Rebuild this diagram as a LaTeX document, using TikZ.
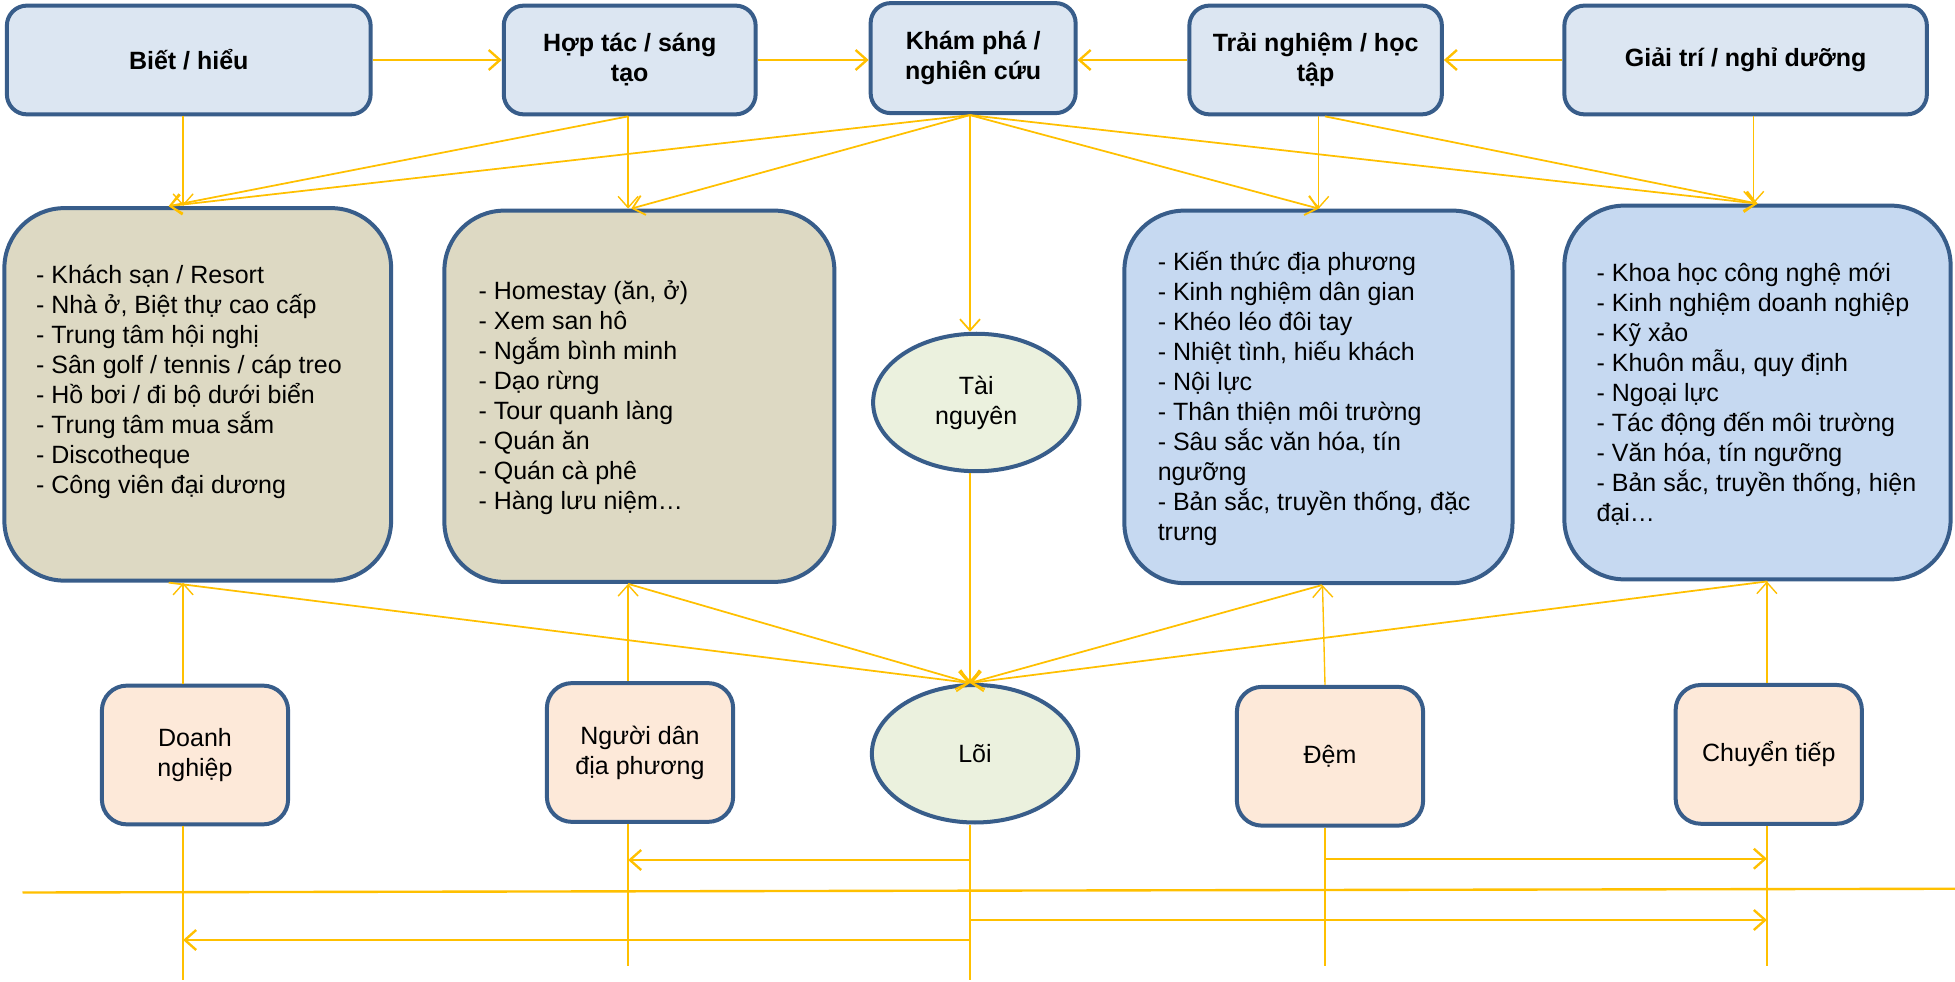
\documentclass[tikz,border=0pt]{standalone}
\usepackage{fontspec}
\setmainfont{Liberation Sans}
\usetikzlibrary{arrows.meta,shapes.geometric,calc}
\definecolor{bord}{HTML}{385D8A}
\definecolor{topfill}{HTML}{DCE6F2}
\definecolor{tanfill}{HTML}{DDD9C3}
\definecolor{bluefill}{HTML}{C6D9F1}
\definecolor{ellfill}{HTML}{EBF1DE}
\definecolor{peach}{HTML}{FDE9D9}
\definecolor{gold}{HTML}{FFC000}
\newcommand\listlines[1]{\vtop{\hsize=170pt\parindent=0pt\parskip=0pt\rightskip=0pt plus 1fil\relax #1\par}}
\tikzset{
  txt/.style={font=\fontsize{10pt}{12pt}\selectfont},
  topbox/.style={draw=bord, line width=1.6pt, fill=topfill, rounded corners=8pt, inner sep=0pt,
    align=center, font=\bfseries\fontsize{10pt}{12pt}\selectfont, minimum height=43.5pt},
  midbox/.style={draw=bord, line width=1.6pt, rounded corners=24pt, inner sep=0pt},
  botbox/.style={draw=bord, line width=1.6pt, fill=peach, rounded corners=10pt, inner sep=0pt,
    align=center, txt, minimum width=74.5pt, minimum height=55.5pt},
  ellnode/.style={ellipse, draw=bord, line width=1.6pt, fill=ellfill, inner sep=0pt,
    align=center, txt, minimum width=82.5pt, minimum height=55pt},
  listtext/.style={inner sep=0pt, anchor=base west, txt},
  con/.style={draw=gold, line width=0.7pt},
  conthin/.style={draw=gold, line width=0.55pt},
  conthick/.style={draw=gold, line width=0.95pt},
  tip/.style={-{Straight Barb[length=4.5pt,width=8pt]}},
}
\begin{document}
\begin{tikzpicture}[x=0.5pt,y=-0.5pt]
\fill[white] (0,0) rectangle (1564,785.6);
\useasboundingbox (0,0) rectangle (1564,785.6);

% column coordinates
\coordinate (cA) at (146.5,0);
\coordinate (cB) at (502.5,0);
\coordinate (cC) at (776,0);
\coordinate (cD) at (1055,0);
\coordinate (cD2) at (1060,0);
\coordinate (cE) at (1403,0);
\coordinate (cF) at (1413.5,0);

% top boxes
\node[topbox, minimum width=145.5pt] (bieu) at (151,48) {Biết / hiểu};
\node[topbox, minimum width=100.75pt] (hoptac) at (503.75,48) {Hợp tác / sáng\\tạo};
\node[topbox, minimum width=82pt, minimum height=44pt] (khampha) at (778.5,46.5) {Khám phá /\\nghiên cứu};
\node[topbox, minimum width=101pt] (trainghiem) at (1052.5,48) {Trải nghiệm / học\\tập};
\node[topbox, minimum width=145pt] (giaitri) at (1396.5,48) {Giải trí / nghỉ dưỡng};

% middle boxes
\node[midbox, fill=tanfill, minimum width=154.7pt, minimum height=149pt] (b1) at (158.2,315.5) {};
\node[midbox, fill=tanfill, minimum width=156pt, minimum height=148.5pt] (b2) at (511.5,317) {};
\node[midbox, fill=bluefill, minimum width=155.25pt, minimum height=149pt] (b3) at (1054.75,317.5) {};
\node[midbox, fill=bluefill, minimum width=154.5pt, minimum height=149.5pt] (b4) at (1406,314) {};

\node[listtext] (b1t) at (28.5,226.7) {\listlines{- Khách sạn / Resort\par
- Nhà ở, Biệt thự cao cấp\par
- Trung tâm hội nghị\par
- Sân golf / tennis / cáp treo\par
- Hồ bơi / đi bộ dưới biển\par
- Trung tâm mua sắm\par
- Discotheque\par
- Công viên đại dương}};
\node[listtext] (b2t) at (382.5,240) {\listlines{- Homestay (ăn, ở)\par
- Xem san hô\par
- Ngắm bình minh\par
- Dạo rừng\par
- Tour quanh làng\par
- Quán ăn\par
- Quán cà phê\par
- Hàng lưu niệm…}};
\node[listtext] (b3t) at (925.8,216.8) {\listlines{- Kiến thức địa phương\par
- Kinh nghiệm dân gian\par
- Khéo léo đôi tay\par
- Nhiệt tình, hiếu khách\par
- Nội lực\par
- Thân thiện môi trường\par
- Sâu sắc văn hóa, tín\par
ngưỡng\par
- Bản sắc, truyền thống, đặc\par
trưng}};
\node[listtext] (b4t) at (1276.9,225.3) {\listlines{- Khoa học công nghệ mới\par
- Kinh nghiệm doanh nghiệp\par
- Kỹ xảo\par
- Khuôn mẫu, quy định\par
- Ngoại lực\par
- Tác động đến môi trường\par
- Văn hóa, tín ngưỡng\par
- Bản sắc, truyền thống, hiện\par
đại…}};

% ellipses
\node[ellnode] (tainguyen) at (781,322) {Tài\\nguyên};
\node[ellnode] (loi) at (780,603) {Lõi};

% bottom boxes
\node[botbox] (doanh) at (156,604) {Doanh\\nghiệp};
\node[botbox] (nguoidan) at (512,602) {Người dân\\địa phương};
\node[botbox] (dem) at (1064,605) {Đệm};
\node[botbox] (chuyen) at (1415,603.5) {Chuyển tiếp};

% top horizontal arrows
\draw[conthick, tip] (bieu.east) -- (hoptac.west);
\draw[conthick, tip] (hoptac.east) -- (hoptac.east -| khampha.west);
\draw[conthick, tip] (trainghiem.west) -- (trainghiem.west -| khampha.east);
\draw[conthick, tip] (giaitri.west) -- (trainghiem.east);

% top to middle verticals
\draw[conthin, tip] (bieu.south -| cA) -- (b1.north -| cA);
\draw[conthin, tip] (hoptac.south -| cB) -- (b2.north -| cB);
\draw[conthin, tip] (trainghiem.south -| cD) -- (b3.north -| cD);
\draw[conthin, tip] (giaitri.south -| cE) -- (b4.north -| cE);

% fan-out lines
\coordinate (t1) at ($(b1.north)+(-23.2,0)$);
\coordinate (t2) at ($(b2.north)+(-6.5,0)$);
\draw[con, tip] (hoptac.south -| cB) -- (t1);
\draw[con, tip] (khampha.south -| cC) -- (t1);
\draw[con, tip] (khampha.south -| cC) -- (t2);
\draw[con, tip] (khampha.south -| cC) -- (tainguyen.north -| cC);
\draw[con, tip] (khampha.south -| cC) -- (b3.north -| cD);
\draw[con, tip] (khampha.south -| cC) -- (b4.north);
\draw[con, tip] ($(trainghiem.south)+(7.5,0)$) -- (b4.north);

% into Loi
\draw[con, tip] (tainguyen.south -| cC) -- (loi.north -| cC);
\draw[con, tip] ($(b1.south)+(-23.2,0)$) -- (loi.north -| cC);
\draw[con, tip] (b2.south -| cB) -- (loi.north -| cC);
\draw[con, tip] ($(b3.south)+(2.75,0)$) -- (loi.north -| cC);
\draw[con, tip] ($(b4.south)+(8,0)$) -- (loi.north -| cC);

% bottom boxes up to middle boxes
\draw[conthin, tip] (doanh.north -| cA) -- (b1.south -| cA);
\draw[conthin, tip] (nguoidan.north -| cB) -- (b2.south -| cB);
\draw[conthin, tip] (dem.north -| cD2) -- ($(b3.south)+(3.25,0)$);
\draw[conthin, tip] (chuyen.north -| cF) -- (b4.south -| cF);

% lines below
\coordinate (eA) at (146.5,784);
\coordinate (eB) at (502.5,773);
\coordinate (eC) at (776,784);
\coordinate (eD) at (1060,773);
\coordinate (eF) at (1413.5,773);
\draw[conthin] (doanh.south -| cA) -- (eA);
\draw[conthin] (nguoidan.south -| cB) -- (eB);
\draw[conthin] (loi.south -| cC) -- (eC);
\draw[conthin] (dem.south -| cD2) -- (eD);
\draw[conthin] (chuyen.south -| cF) -- (eF);

% horizontal arrows at the bottom
\coordinate (h1s) at (776,688);
\coordinate (h1e) at (502.5,688);
\coordinate (h2s) at (1060,687);
\coordinate (h2e) at (1413.5,687);
\coordinate (h3s) at (776,736);
\coordinate (h3e) at (1413.5,736);
\coordinate (h4s) at (776,752);
\coordinate (h4e) at (146.5,752);
\coordinate (lineL) at (18,714);
\coordinate (lineR) at (1564,711);
\draw[conthick, tip] (h1s) -- (h1e);
\draw[conthick, tip] (h2s) -- (h2e);
\draw[conthick, tip] (h3s) -- (h3e);
\draw[conthick, tip] (h4s) -- (h4e);
\draw[conthick] (lineL) -- (lineR);
\end{tikzpicture}
\end{document}
